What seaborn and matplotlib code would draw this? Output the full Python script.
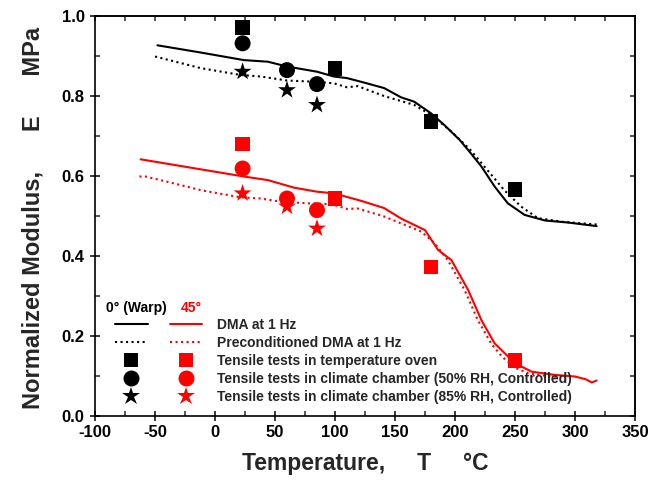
import matplotlib
matplotlib.use("Agg")
import matplotlib.pyplot as plt
import seaborn as sns
import pandas as pd
from matplotlib.lines import Line2D
from matplotlib.legend_handler import HandlerTuple
from matplotlib.ticker import MultipleLocator, FormatStrFormatter

# ---------------- data ----------------
black_solid_T = [-48, -12, 24, 44, 60, 85, 99, 110, 124, 141, 155, 166, 180, 191, 204, 211, 222, 233, 244, 258, 275, 294, 318]
black_solid_E = [0.926, 0.908, 0.889, 0.885, 0.873, 0.860, 0.848, 0.844, 0.833, 0.819, 0.796, 0.785, 0.756, 0.727, 0.689, 0.664, 0.623, 0.573, 0.531, 0.502, 0.488, 0.483, 0.474]

black_dot_T = [-50, -12, 21, 38, 60, 82, 99, 110, 119, 141, 166, 180, 196, 213, 227, 241, 255, 269, 289, 314, 318]
black_dot_E = [0.898, 0.869, 0.852, 0.848, 0.838, 0.835, 0.831, 0.821, 0.824, 0.799, 0.777, 0.752, 0.713, 0.664, 0.614, 0.564, 0.523, 0.494, 0.485, 0.479, 0.478]

red_solid_T = [-62, -12, 24, 44, 66, 85, 99, 122, 141, 155, 175, 186, 197, 211, 222, 233, 250, 264, 283, 300, 309, 314, 318]
red_solid_E = [0.641, 0.616, 0.598, 0.589, 0.570, 0.560, 0.556, 0.537, 0.519, 0.493, 0.464, 0.414, 0.389, 0.314, 0.239, 0.181, 0.131, 0.110, 0.102, 0.098, 0.091, 0.083, 0.088]

red_dot_T = [-63, -58, -40, -12, 21, 38, 55, 77, 97, 110, 119, 141, 172, 183, 194, 208, 219, 230, 239, 250, 261, 272, 285]
red_dot_E = [0.598, 0.598, 0.585, 0.564, 0.546, 0.543, 0.535, 0.531, 0.529, 0.517, 0.518, 0.498, 0.460, 0.431, 0.389, 0.314, 0.239, 0.181, 0.148, 0.120, 0.106, 0.101, 0.097]

T_oven = [23, 100, 180, 250]
black_oven = [0.970, 0.868, 0.736, 0.566]
red_oven = [0.679, 0.543, 0.372, 0.138]

T_rh50 = [23, 60, 85]
black_rh50 = [0.931, 0.864, 0.829]
red_rh50 = [0.618, 0.543, 0.514]

T_rh85 = [23, 60, 85]
black_rh85 = [0.860, 0.814, 0.777]
red_rh85 = [0.556, 0.523, 0.468]

legend_labels = [
    "DMA at 1 Hz",
    "Preconditioned DMA at 1 Hz",
    "Tensile tests in temperature oven",
    "Tensile tests in climate chamber (50% RH, Controlled)",
    "Tensile tests in climate chamber (85% RH, Controlled)",
]

# ---------------- style ----------------
sns.set_style("ticks")
plt.rcParams["font.family"] = ["Liberation Sans", "DejaVu Sans"]
plt.rcParams["font.weight"] = "bold"
plt.rcParams["axes.unicode_minus"] = False

fig = plt.figure(figsize=(6.48, 4.86), dpi=100)
ax = fig.add_axes([95 / 648, 1 - 415.7 / 486, (635 - 95) / 648, (415.7 - 15.7) / 486])

BLACK = "black"
RED = "#ff0000"
LW = 1.5

def line(T, E, color, ls):
    df = pd.DataFrame({"T": T, "E": E})
    sns.lineplot(data=df, x="T", y="E", ax=ax, color=color, linestyle=ls,
                 linewidth=LW, sort=False, estimator=None, legend=False)

line(black_solid_T, black_solid_E, BLACK, "-")
line(black_dot_T, black_dot_E, BLACK, ":")
line(red_solid_T, red_solid_E, RED, "-")
line(red_dot_T, red_dot_E, RED, ":")

MS = {"s": 10.5, "o": 11.5, "*": 13.5}

def pts(T, E, color, marker):
    df = pd.DataFrame({"T": T, "E": E})
    sns.scatterplot(data=df, x="T", y="E", ax=ax, color=color, marker=marker,
                    s=MS[marker] ** 2, edgecolor="none", linewidth=0, legend=False, zorder=3)

pts(T_oven, black_oven, BLACK, "s")
pts(T_oven, red_oven, RED, "s")
pts(T_rh50, black_rh50, BLACK, "o")
pts(T_rh50, red_rh50, RED, "o")
pts(T_rh85, black_rh85, BLACK, "*")
pts(T_rh85, red_rh85, RED, "*")

ax.set_xlim(-100, 350)
ax.set_ylim(0, 1.0)
ax.xaxis.set_major_locator(MultipleLocator(50))
ax.xaxis.set_minor_locator(MultipleLocator(25))
ax.yaxis.set_major_locator(MultipleLocator(0.2))
ax.yaxis.set_minor_locator(MultipleLocator(0.1))
ax.yaxis.set_major_formatter(FormatStrFormatter("%.1f"))

for sp in ax.spines.values():
    sp.set_linewidth(1.2)
    sp.set_visible(True)
    sp.set_color("black")

ax.tick_params(which="major", direction="inout", length=7, width=1.1, labelsize=12, colors="black")
ax.tick_params(which="minor", direction="in", length=3.5, width=1.1)
ax.tick_params(axis="x", which="major", pad=3)
ax.tick_params(axis="y", which="major", pad=4)

secx = ax.secondary_xaxis("top")
secx.xaxis.set_major_locator(MultipleLocator(50))
secx.xaxis.set_minor_locator(MultipleLocator(25))
secx.tick_params(which="both", direction="in", length=3.5, width=1.1, labeltop=False)
secx.spines["top"].set_linewidth(1.2)
secy = ax.secondary_yaxis("right")
secy.yaxis.set_major_locator(MultipleLocator(0.2))
secy.yaxis.set_minor_locator(MultipleLocator(0.1))
secy.tick_params(which="both", direction="in", length=3.5, width=1.1, labelright=False)
secy.spines["right"].set_linewidth(1.2)

for lab in ax.get_xticklabels() + ax.get_yticklabels():
    lab.set_fontweight("bold")

ax.set_xlabel("Temperature,     T     \u00b0C", fontsize=16.5, fontweight="bold", labelpad=9)
ax.set_ylabel("Normalized Modulus,      E      MPa", fontsize=17, fontweight="bold",
              labelpad=12, y=0.495)

# ---------------- legend ----------------
def h(color, ls="none", marker=None, ms=None):
    return Line2D([], [], color=color, linestyle=ls, linewidth=LW, marker=marker,
                  markersize=ms if ms else 0, markeredgewidth=0)

handles = [
    (h(BLACK, "-"), h(RED, "-")),
    (h(BLACK, ":"), h(RED, ":")),
    (h(BLACK, marker="s", ms=MS["s"]), h(RED, marker="s", ms=MS["s"])),
    (h(BLACK, marker="o", ms=MS["o"]), h(RED, marker="o", ms=MS["o"])),
    (h(BLACK, marker="*", ms=MS["*"]), h(RED, marker="*", ms=MS["*"])),
]
fs = 10
fs_px = fs * 100 / 72
leg = fig.legend(handles, legend_labels, loc="upper left",
                 bbox_to_anchor=(115 / 648, 1 - 318 / 486),
                 bbox_transform=fig.transFigure,
                 handler_map={tuple: HandlerTuple(ndivide=None, pad=22 / fs_px)},
                 handlelength=87 / fs_px, handletextpad=15 / fs_px,
                 frameon=False, borderpad=0, borderaxespad=0, labelspacing=0.28,
                 prop={"size": fs, "weight": "bold"})

fig.text(106 / 648, 1 - 307.5 / 486, "0\u00b0 (Warp)", fontsize=fs, fontweight="bold",
         color=BLACK, va="center", ha="left")
fig.text(181 / 648, 1 - 307.5 / 486, "45\u00b0", fontsize=fs, fontweight="bold",
         color=RED, va="center", ha="left")

fig.savefig("out.png", dpi=100)
